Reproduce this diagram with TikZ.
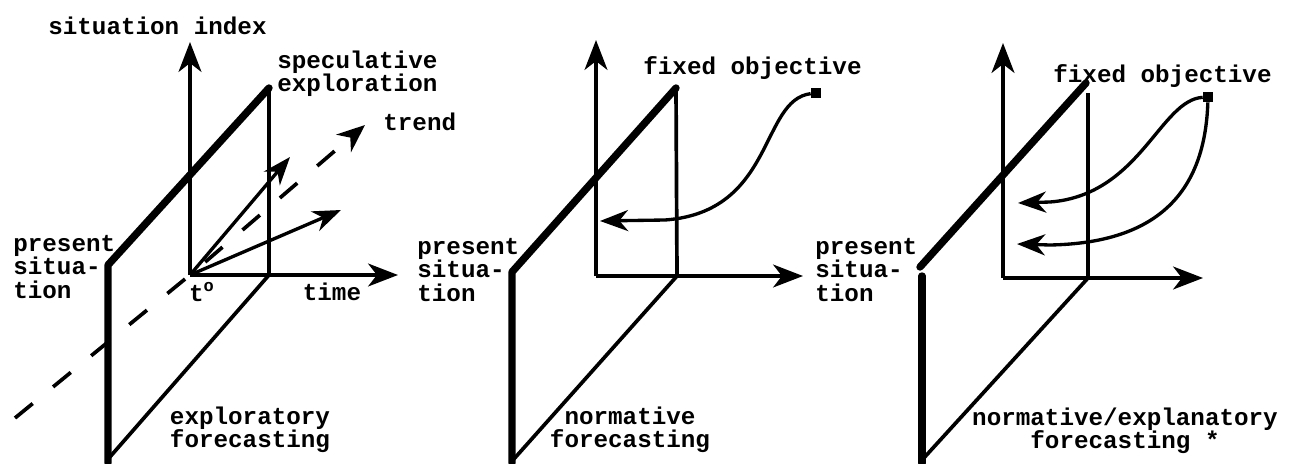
\documentclass[tikz,border=0pt]{standalone}
\usepackage{fontspec}
\setmainfont{Liberation Mono}
\usetikzlibrary{arrows.meta}

\begin{document}
\begin{tikzpicture}[x=0.02cm,y=-0.02cm]
    \tikzset{label/.style = {shape=rectangle,draw=none,inner sep=0pt,align=left,font=\fontsize{13.8}{13.3}\selectfont\bfseries}}
    \tikzset{label2/.style = {label,align=center}}
    \tikzset{goal/.style = {shape=rectangle,fill,minimum size=0.2cm,inner sep=0pt}}
    \tikzset{edge/.style = {line width=2.1pt,line join=round}}
    \tikzset{edge2/.style = {line width=4.2pt,line join=round,line cap=round}}
    \tikzset{axis/.style = {edge,-{Stealth[length=17pt,width=13pt,inset=5pt]}}}
    \tikzset{route/.style = {line width=1.9pt,-{Stealth[length=16pt,width=12pt,inset=5pt]}}}
    \tikzset{trendline/.style = {line width=2.1pt,dash pattern=on 13pt off 15pt,-{Stealth[length=16pt,width=13pt,inset=5pt]}}}

    \useasboundingbox (0,0) rectangle (1304,463);

    % exploratory forecasting

    \coordinate (o1) at (190,275);
    \coordinate (y1) at (190,42);
    \coordinate (x1) at (398,275);
    \coordinate (a1) at (108,265);
    \coordinate (b1) at (269,88);
    \coordinate (c1) at (269,275);
    \coordinate (d1) at (109,458);
    \coordinate (e1) at (108,463);
    \coordinate (s1) at (290,157);
    \coordinate (r1) at (341,210);
    \coordinate (p1) at (15,418);
    \coordinate (q1) at (365,125);

    \node[label] (index) at (48,26) [anchor=west] {situation index};
    \node[label] (spec) at (277,74) [anchor=west] {speculative\\exploration};
    \node[label] (trend) at (383,122) [anchor=west] {trend};
    \node[label] (pres1) at (13,267) [anchor=west] {present\\situa-\\tion};
    \node[label] (t0) at (202,292) {t\textsuperscript{o}};
    \node[label] (time) at (332,292) {time};
    \node[label2] (expl) at (250,430) {exploratory\\forecasting};

    \draw[edge2] (e1) -- (a1) -- (b1);
    \draw[edge] (b1) -- (c1) -- (d1);
    \draw[axis] (o1) -- (y1);
    \draw[axis] (o1) -- (x1);
    \draw[route] (o1) -- (s1);
    \draw[route] (o1) -- (r1);
    \draw[trendline] (p1) -- (o1) -- (q1);

    % normative forecasting

    \coordinate (o2) at (596,276);
    \coordinate (y2) at (596,40);
    \coordinate (x2) at (803,276);
    \coordinate (a2) at (512,272);
    \coordinate (b2) at (676,88);
    \coordinate (c2) at (677,276);
    \coordinate (d2) at (513,460);
    \coordinate (e2) at (512,463);
    \coordinate (k2) at (665,220);
    \coordinate (t2) at (600,221);

    \node[goal] (obj2) at (816,93) {};
    \node[label] (fix2) at (643,68) [anchor=west] {fixed objective};
    \node[label] (pres2) at (417,270) [anchor=west] {present\\situa-\\tion};
    \node[label2] (norm2) at (630,430) {normative\\forecasting};

    \draw[edge2] (e2) -- (a2) -- (b2);
    \draw[edge] (b2) -- (c2) -- (d2);
    \draw[axis] (o2) -- (y2);
    \draw[axis] (o2) -- (x2);
    \draw[route] (obj2) .. controls (760,100) and (775,212) .. (k2) -- (t2);

    % normative/explanatory forecasting

    \coordinate (o3) at (1003,278);
    \coordinate (y3) at (1003,43);
    \coordinate (x3) at (1203,278);
    \coordinate (a3) at (920,267);
    \coordinate (f3) at (922,276);
    \coordinate (b3) at (1086,83);
    \coordinate (g3) at (1088,93);
    \coordinate (c3) at (1088,278);
    \coordinate (d3) at (922,460);
    \coordinate (e3) at (922,463);
    \coordinate (k3) at (1050,202);
    \coordinate (t3) at (1018,203);
    \coordinate (m3) at (1050,245);
    \coordinate (u3) at (1017,244);

    \node[goal] (obj3) at (1208,97) {};
    \node[label] (fix3) at (1053,76) [anchor=west] {fixed objective};
    \node[label] (pres3) at (815,270) [anchor=west] {present\\situa-\\tion};
    \node[label2] (norm3) at (1125,431) {normative/explanatory\\forecasting *};

    \draw[edge2] (a3) -- (b3);
    \draw[edge2] (f3) -- (e3);
    \draw[edge] (g3) -- (c3) -- (d3);
    \draw[axis] (o3) -- (y3);
    \draw[axis] (o3) -- (x3);
    \draw[route] (obj3) .. controls (1160,100) and (1140,195) .. (k3) -- (t3);
    \draw[route] (obj3) .. controls (1205,190) and (1160,243) .. (m3) -- (u3);
\end{tikzpicture}
\end{document}
